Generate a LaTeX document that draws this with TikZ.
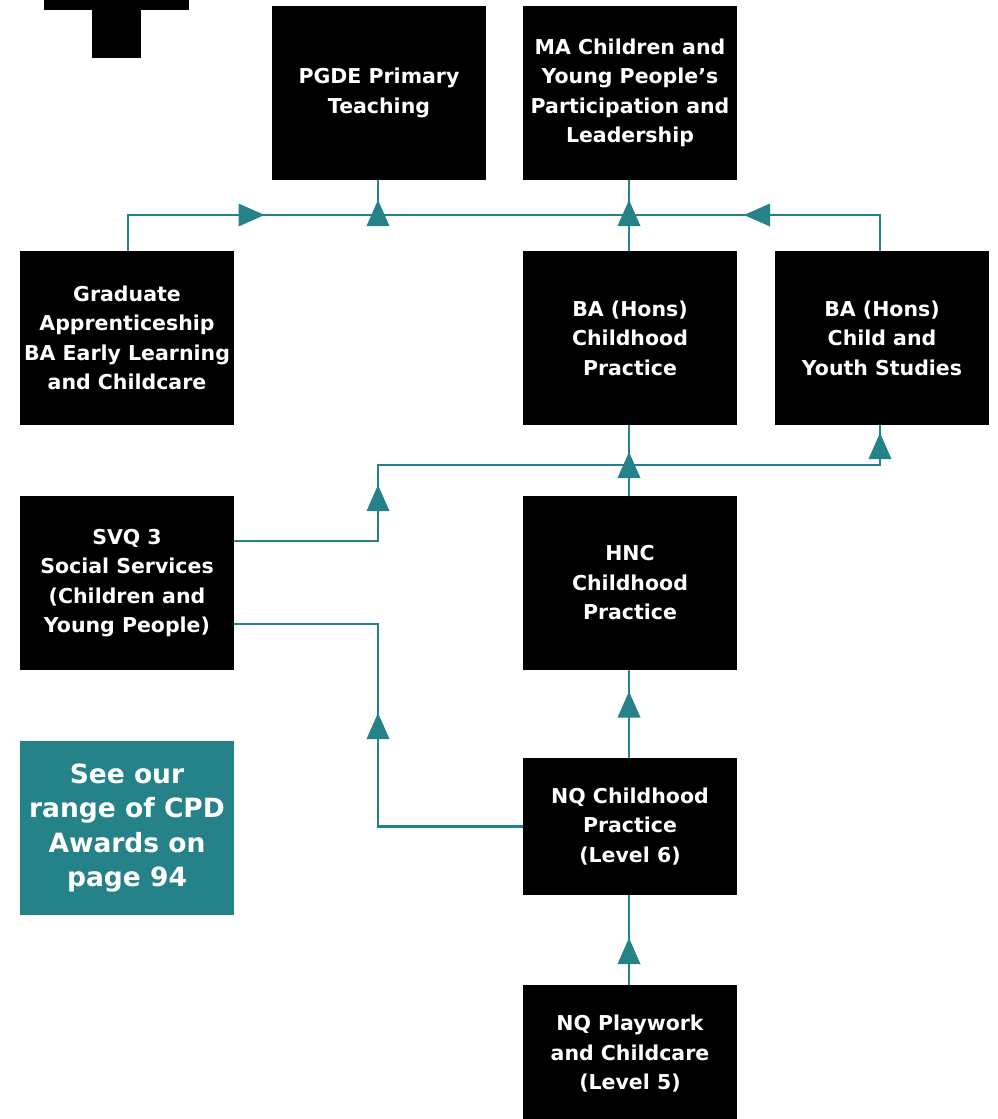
\documentclass[tikz,border=0pt]{standalone}
\usepackage{fontspec}
\setmainfont{DejaVu Sans}
\usetikzlibrary{calc}
\definecolor{tealc}{HTML}{258289}
\tikzset{
  box/.style={fill=black, text=white, minimum width=214pt, minimum height=174pt, inner sep=0pt, align=center,
    font=\bfseries\fontsize{20.5}{29.5}\selectfont},
  cpdbox/.style={box, fill=tealc, font=\bfseries\fontsize{26.5}{34.5}\selectfont},
  conn/.style={draw=tealc, line width=2.5pt},
  pics/tri up/.style={code={\fill[tealc] (-11.5,13) -- (11.5,13) -- (0,-13) -- cycle;}},
  pics/tri right/.style={code={\fill[tealc] (-13,-11.5) -- (-13,11.5) -- (13,0) -- cycle;}},
  pics/tri left/.style={code={\fill[tealc] (13,-11.5) -- (13,11.5) -- (-13,0) -- cycle;}},
}
\begin{document}
\begin{tikzpicture}[x=1pt,y=-1pt]
\useasboundingbox (0,0) rectangle (997,1119);
\clip (0,0) rectangle (997,1119);
% cropped black mark top left
\fill (44,-5) rectangle (189,10);
\fill (92,-5) rectangle (141,58);
% nodes
\node[box] (pgde) at (379,93) {PGDE Primary\\Teaching};
\node[box] (ma) at (630,93) {MA Children and\\Young People’s\\Participation and\\Leadership};
\node[box] (ga) at (127,338) {Graduate\\Apprenticeship\\BA Early Learning\\and Childcare};
\node[box] (bachild) at (630,338) {BA (Hons)\\Childhood\\Practice};
\node[box] (bacys) at (882,338) {BA (Hons)\\Child and\\Youth Studies};
\node[box] (svq) at (127,583) {SVQ 3\\Social Services\\(Children and\\Young People)};
\node[box] (hnc) at (630,583) {HNC\\Childhood\\Practice};
\node[cpdbox] (cpd) at (127,828) {See our\\range of CPD\\Awards on\\page 94};
\node[box, minimum height=137pt] (nqcp) at (630,826.5) {NQ Childhood\\Practice\\(Level 6)};
\node[box, minimum height=138pt] (nqpw) at (630,1054) {NQ Playwork\\and Childcare\\(Level 5)};
% junction coordinates
\coordinate (jtop) at (629,215);
\coordinate (jmid) at (629,465);
\coordinate (jsvq) at (378,465);
\coordinate (jlow) at (378,826.5);
% upper connectors
\draw[conn] (ga.north -| 128,0) |- (jtop);
\draw[conn] (bacys.north -| 880,0) |- (jtop);
\draw[conn] (pgde.south -| 378,0) -- (378,215);
\draw[conn] (ma.south -| 629,0) -- (bachild.north -| 629,0);
% middle connectors
\draw[conn] ($(svq.east)+(0,-42)$) -| (jsvq) -- (880,465) -- (bacys.south -| 880,0);
\draw[conn] (hnc.north -| 629,0) -- (bachild.south -| 629,0);
% lower connectors
\draw[conn] ($(svq.east)+(0,41)$) -| (jlow) -- (nqcp.west);
\draw[conn] (nqcp.north -| 629,0) -- (hnc.south -| 629,0);
\draw[conn] (nqpw.north -| 629,0) -- (nqcp.south -| 629,0);
% arrowheads
\pic at (251.5,215) {tri right};
\pic at (378,213) {tri up};
\pic at (629,213) {tri up};
\pic at (757,215) {tri left};
\pic at (378,498) {tri up};
\pic at (629,465) {tri up};
\pic at (880,446) {tri up};
\pic at (378,726) {tri up};
\pic at (629,704.5) {tri up};
\pic at (629,951) {tri up};
\end{tikzpicture}
\end{document}
